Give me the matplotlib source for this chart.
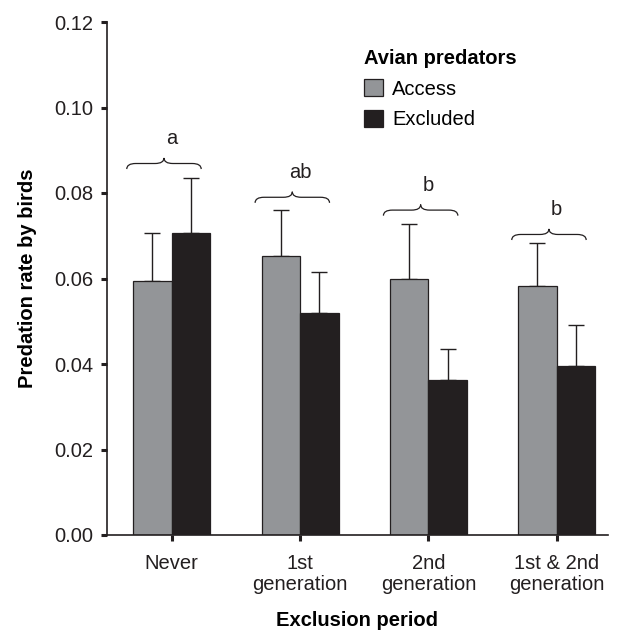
import matplotlib
matplotlib.use("Agg")
import matplotlib.pyplot as plt
from matplotlib.path import Path
from matplotlib.patches import PathPatch, Patch

plt.rcParams['font.family'] = ['Liberation Sans', 'DejaVu Sans']

periods = ['Never', '1st\ngeneration', '2nd\ngeneration', '1st & 2nd\ngeneration']
access = [0.0594, 0.0653, 0.0598, 0.0582]
access_err = [0.0112, 0.0108, 0.0129, 0.0100]
excluded = [0.0706, 0.0520, 0.0362, 0.0395]
excluded_err = [0.0130, 0.0095, 0.0074, 0.0096]
letters = ['a', 'ab', 'b', 'b']
brace_y = [0.0869, 0.0790, 0.0760, 0.0703]

grey = '#939598'
black = '#231f20'
fs = 14.5


def brace(ax, x0, x1, y, h, r):
    xm = (x0 + x1) / 2
    verts = [(x0, y - h), (x0, y), (x0 + r, y), (xm - r, y),
             (xm, y), (xm, y + h), (xm, y), (xm + r, y),
             (x1 - r, y), (x1, y), (x1, y - h)]
    codes = [Path.MOVETO, Path.CURVE3, Path.CURVE3, Path.LINETO,
             Path.CURVE3, Path.CURVE3, Path.CURVE3, Path.CURVE3,
             Path.LINETO, Path.CURVE3, Path.CURVE3]
    ax.add_patch(PathPatch(Path(verts, codes), fill=False, lw=0.9, color=black))


fig = plt.figure(figsize=(6.18, 6.32), dpi=100)
ax = fig.add_axes([107 / 618, 1 - 535 / 632, (608 - 107) / 618, (535 - 22) / 632])

x = list(range(len(periods)))
w = 0.30
xa = [i - w / 2 for i in x]
xe = [i + w / 2 for i in x]
ax.bar(xa, access, w, color=grey, edgecolor=black, linewidth=0.9, zorder=2)
ax.bar(xe, excluded, w, color=black, edgecolor=black, linewidth=0.9, zorder=2)
ax.errorbar(xa, access, yerr=[[0] * 4, access_err], fmt='none', ecolor=black,
            elinewidth=1, capsize=5.8, capthick=1, zorder=1)
ax.errorbar(xe, excluded, yerr=[[0] * 4, excluded_err], fmt='none', ecolor=black,
            elinewidth=1, capsize=5.8, capthick=1, zorder=1)

for i in x:
    brace(ax, i - 0.35, i + 0.23, brace_y[i], 0.0013, 0.07)
    ax.annotate(letters[i], (i, brace_y[i]), xytext=(0, 14), textcoords='offset points',
                ha='center', va='baseline', fontsize=fs, color=black)

ax.set_xlim(-0.504, 3.40)
ax.set_ylim(0, 0.12)
ax.set_yticks([0, 0.02, 0.04, 0.06, 0.08, 0.10, 0.12])
ax.set_yticklabels(['0.00', '0.02', '0.04', '0.06', '0.08', '0.10', '0.12'])
ax.set_xticks(x)
ax.set_xticklabels(periods, linespacing=1.15)
ax.tick_params(axis='both', labelsize=fs, colors=black, width=2.2, length=4.5, direction='out')
ax.tick_params(axis='y', pad=5.5)
ax.tick_params(axis='x', pad=9)
for s in ['top', 'right']:
    ax.spines[s].set_visible(False)
for s in ['left', 'bottom']:
    ax.spines[s].set_linewidth(1.2)
    ax.spines[s].set_color(black)

ax.set_ylabel('Predation rate by birds', fontsize=fs, fontweight='bold', labelpad=12)
ax.set_xlabel('Exclusion period', fontsize=fs, fontweight='bold', labelpad=12)

handles = [Patch(facecolor=grey, edgecolor=black, linewidth=0.9),
           Patch(facecolor=black, edgecolor=black, linewidth=0.9)]
leg = ax.legend(handles, ['Access', 'Excluded'], title='Avian predators',
                loc='upper left', bbox_to_anchor=(364 / 618, 1 - 49 / 632),
                bbox_transform=fig.transFigure, frameon=False, fontsize=fs,
                title_fontproperties={'weight': 'bold', 'size': fs},
                alignment='left', handlelength=0.95, handleheight=0.95,
                handletextpad=0.45, labelspacing=0.55, borderpad=0, borderaxespad=0)

fig.savefig('out.png', dpi=100)
